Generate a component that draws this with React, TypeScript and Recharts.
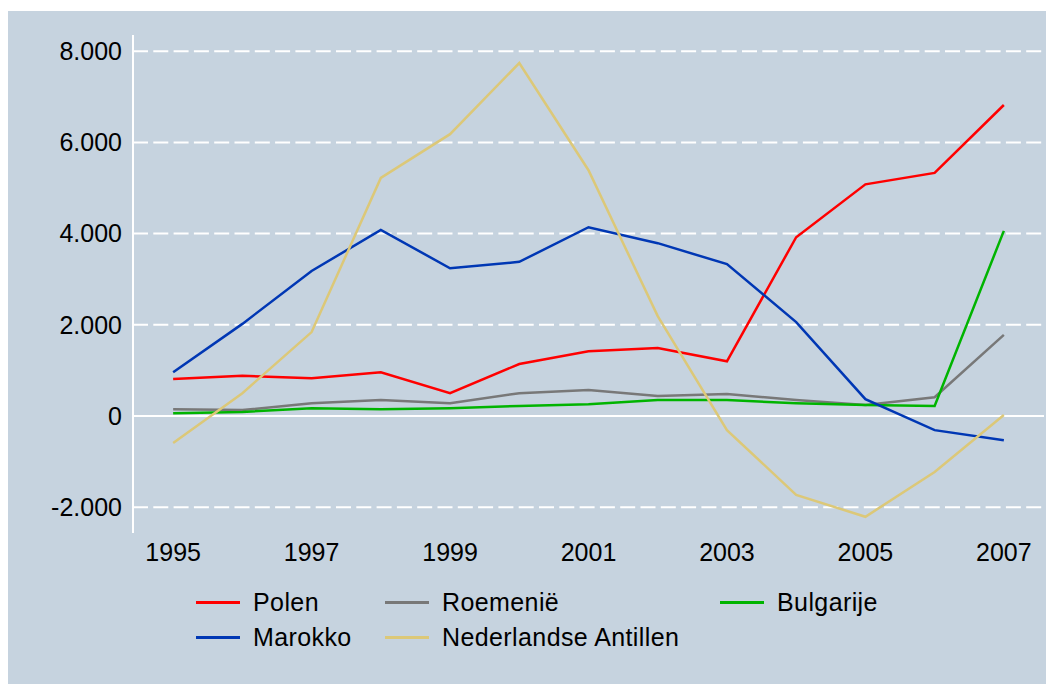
import React from 'react';
import { LineChart, Line, XAxis, YAxis, ReferenceLine } from 'recharts';

const years = [1995, 1996, 1997, 1998, 1999, 2000, 2001, 2002, 2003, 2004, 2005, 2006, 2007];
const polen = [810, 880, 830, 960, 500, 1140, 1420, 1490, 1200, 3920, 5080, 5330, 6820];
const roemenie = [150, 130, 280, 350, 280, 500, 570, 440, 480, 350, 240, 410, 1780];
const bulgarije = [60, 90, 170, 150, 170, 220, 260, 350, 350, 280, 240, 220, 4060];
const marokko = [960, 2020, 3180, 4080, 3240, 3380, 4140, 3790, 3330, 2060, 370, -310, -530];
const antillen = [-590, 500, 1840, 5220, 6180, 7740, 5390, 2190, -310, -1730, -2210, -1230, 20];

const yTicks = [-2000, 0, 2000, 4000, 6000, 8000];
const xTicks = [1995, 1997, 1999, 2001, 2003, 2005, 2007];

const series = [
  { key: 'polen', name: 'Polen', color: '#ff0000', values: polen },
  { key: 'roemenie', name: 'Roemenië', color: '#787878', values: roemenie },
  { key: 'bulgarije', name: 'Bulgarije', color: '#00b400', values: bulgarije },
  { key: 'marokko', name: 'Marokko', color: '#0037b4', values: marokko },
  { key: 'antillen', name: 'Nederlandse Antillen', color: '#dcc878', values: antillen },
];

const data = years.map((year, i) => {
  const row: any = { year };
  series.forEach((s) => {
    row[s.key] = s.values[i];
  });
  return row;
});

const fmt = (v: number) => {
  const sign = v < 0 ? '-' : '';
  return sign + String(Math.abs(v)).replace(/\B(?=(\d{3})+(?!\d))/g, '.');
};

const font = '"Liberation Sans", Arial, sans-serif';

export default function App() {
  return (
    <div
      style={{
        position: 'relative',
        marginTop: 3,
        width: 1046,
        height: 673,
        background: '#c6d3df',
        fontFamily: font,
      }}
    >
      <LineChart
        width={1046}
        height={580}
        data={data}
        margin={{ top: 24, right: 10, bottom: 0, left: 0 }}
      >
        <XAxis
          dataKey="year"
          type="number"
          domain={[1994.42, 2007.58]}
          ticks={xTicks}
          axisLine={false}
          tickLine={false}
          tickSize={0}
          tickMargin={10}
          height={58}
          tick={{ fill: '#000', fontSize: 25, fontFamily: font }}
        />
        <YAxis
          type="number"
          domain={[-2566, 8355]}
          ticks={yTicks}
          tickFormatter={fmt}
          axisLine={{ stroke: '#ffffff', strokeWidth: 2 }}
          tickLine={false}
          tickSize={0}
          tickMargin={11}
          width={125}
          tick={{ fill: '#000', fontSize: 25, fontFamily: font }}
        />
        {/* gridlines: solid at zero, dashed elsewhere */}
        {yTicks.map((t) => (
          <ReferenceLine
            key={t}
            y={t}
            stroke="#ffffff"
            strokeWidth={2}
            strokeDasharray={t === 0 ? undefined : '15 5.3'}
          />
        ))}
        {series.map((s) => (
          <Line
            key={s.key}
            type="linear"
            dataKey={s.key}
            name={s.name}
            stroke={s.color}
            strokeWidth={2.5}
            dot={false}
            activeDot={false}
            isAnimationActive={false}
          />
        ))}
      </LineChart>
      <div
        style={{
          position: 'absolute',
          left: 188,
          top: 574,
          display: 'grid',
          gridTemplateColumns: '189px 335px auto',
          gridAutoRows: '35px',
          fontSize: 25,
          letterSpacing: 0.4,
          color: '#000',
        }}
      >
        {series.map((s) => (
          <div key={s.key} style={{ display: 'flex', alignItems: 'center' }}>
            <span
              style={{
                display: 'inline-block',
                width: 44,
                height: 3,
                background: s.color,
                marginRight: 13,
              }}
            />
            <span>{s.name}</span>
          </div>
        ))}
      </div>
    </div>
  );
}
